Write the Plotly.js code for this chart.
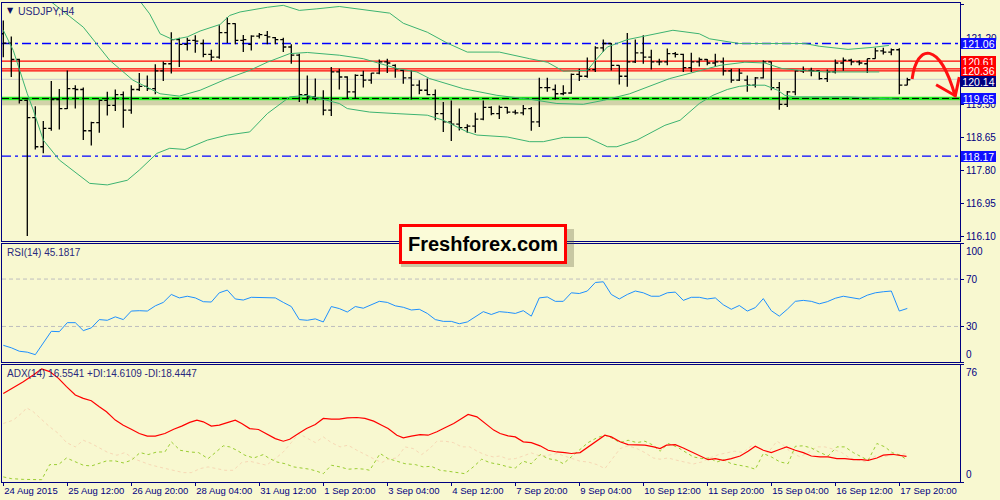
<!DOCTYPE html>
<html><head><meta charset="utf-8">
<script src="https://cdn.plot.ly/plotly-3.0.1.min.js"></script>
<style>html,body{margin:0;padding:0;background:#F8F8D0;} #chart{width:1000px;height:500px;}</style>
</head><body><div id="chart"></div>
<script>
// ---------- DATA ----------
const tickLabels = ['24 Aug 2015','25 Aug 12:00','26 Aug 20:00','28 Aug 04:00','31 Aug 12:00','1 Sep 20:00','3 Sep 04:00','4 Sep 12:00','7 Sep 20:00','9 Sep 04:00','10 Sep 12:00','11 Sep 20:00','15 Sep 04:00','16 Sep 12:00','17 Sep 20:00'];
const barsPerLabel = 8;

const openP = [121.31,121.07,120.65,119.60,119.16,118.41,118.88,119.62,119.39,119.90,
119.88,118.82,119.03,119.60,119.47,119.75,119.35,119.88,119.96,119.90,
120.36,120.54,121.16,121.04,121.14,121.06,120.78,120.71,121.34,121.57,
121.14,121.04,121.25,121.27,121.21,121.16,120.97,120.76,119.75,119.69,
119.65,119.35,120.33,120.20,119.82,120.24,120.12,120.30,120.59,120.50,
120.37,120.18,119.99,119.86,119.75,119.26,119.05,118.99,118.90,118.94,
119.12,119.42,119.26,119.42,119.30,119.28,119.39,119.05,119.93,119.88,
119.77,119.79,120.27,120.22,120.39,120.95,121.06,120.50,120.22,120.59,
120.82,120.71,120.59,120.59,120.80,120.78,120.44,120.59,120.65,120.56,
120.59,120.36,120.12,120.12,119.99,120.18,120.59,119.93,119.50,119.82,
120.36,120.37,120.36,120.16,120.33,120.56,120.63,120.59,120.54,120.67,
120.87,120.84,120.90,119.99];
const highP = [121.65,121.24,120.67,119.62,119.45,119.07,120.10,119.89,120.37,119.99,
119.93,119.05,119.62,119.82,119.88,119.83,119.99,120.30,120.24,120.53,
120.60,121.35,121.21,121.21,121.27,121.16,120.90,121.53,121.74,121.58,
121.28,121.27,121.33,121.38,121.23,121.21,121.04,120.80,120.24,120.16,
119.86,120.46,120.41,120.22,120.27,120.36,120.30,120.65,120.67,120.53,
120.39,120.37,120.12,120.16,119.88,119.56,119.60,119.39,118.99,119.28,
119.60,119.45,119.47,119.43,119.36,119.48,119.43,120.18,120.18,120.01,
119.99,120.29,120.41,120.70,120.99,121.16,121.07,120.50,121.33,121.16,
121.27,120.90,120.67,120.93,120.84,120.80,120.82,120.70,120.66,120.80,
120.70,120.41,120.41,120.24,120.20,120.63,120.60,120.07,119.84,120.37,
120.47,120.44,120.37,120.39,120.65,120.70,120.67,120.63,120.67,120.95,
120.95,120.93,120.94,120.18];
const lowP = [120.71,120.20,119.52,116.12,118.34,118.24,118.82,118.85,119.38,119.39,
118.58,118.44,118.77,119.21,119.33,118.90,119.26,119.84,119.84,119.76,
120.10,120.29,120.46,120.88,120.82,120.71,120.61,120.67,121.07,121.04,
120.84,120.88,121.19,121.04,121.04,120.84,120.54,119.56,119.52,119.60,
119.22,119.20,119.88,119.65,119.65,119.93,120.03,120.27,120.30,120.18,
120.03,119.62,119.76,119.73,119.09,118.79,118.56,118.83,118.77,118.77,
119.09,119.22,119.12,119.26,119.24,119.22,118.82,118.92,119.82,119.62,
119.73,119.77,120.10,120.18,120.33,120.84,120.37,120.01,119.95,120.56,
120.54,120.39,120.50,120.50,120.70,120.33,120.33,120.47,120.50,120.46,
120.24,120.05,120.10,119.82,119.93,120.16,119.86,119.36,119.43,119.73,
120.30,120.22,120.13,120.07,120.29,120.36,120.50,120.50,120.30,120.67,
120.78,120.76,119.76,119.99];
const closeP = [121.07,120.65,119.60,119.16,118.41,118.88,119.62,119.39,119.90,119.88,
118.82,119.03,119.60,119.47,119.75,119.35,119.88,119.96,119.90,120.36,
120.54,121.16,121.04,121.14,121.12,120.78,120.71,121.34,121.57,121.14,
121.16,121.25,121.29,121.23,121.16,120.97,120.76,119.75,119.69,119.65,
119.35,120.33,120.20,119.82,120.24,120.12,120.30,120.59,120.56,120.41,
120.18,119.99,119.86,119.75,119.26,119.05,118.99,118.90,118.94,119.12,
119.42,119.26,119.42,119.30,119.28,119.39,119.05,119.93,119.93,119.77,
119.79,120.27,120.22,120.39,120.95,121.06,120.50,120.22,120.59,120.82,
120.71,120.59,120.59,120.80,120.78,120.44,120.59,120.65,120.56,120.59,
120.36,120.12,120.30,119.99,120.18,120.59,119.93,119.50,119.82,120.36,
120.37,120.36,120.16,120.33,120.56,120.63,120.59,120.56,120.67,120.87,
120.84,120.90,119.99,120.13];

// Bollinger bands (at bar positions)
const bbUpX = [0,12,17,18.3,19.6,21.2,23,24.6,27.1,28.3,29.6,33,35,37,39.2,42,48.3,50,53,55.5,58,62,65.8,68,70,73,74.2,75.5,78,80.8,83.7,87,88.3,92,100.2,102,105.6,108.6,110.7];
const bbUp = [125.0,123.9,122.17,121.82,121.31,121.16,121.23,121.38,121.55,121.78,121.87,121.99,122.04,121.91,121.95,122.01,121.84,121.58,121.35,121.07,120.84,120.84,120.67,120.58,120.35,120.37,120.67,120.97,121.16,121.27,121.40,121.31,121.18,121.06,121.06,120.99,120.91,120.96,121.01];
const bbMidX = [0,5.8,10,13.3,16.2,19.6,22,24.6,28,30.8,33,35.8,38,42,45,49.2,51.7,53.3,57.5,61.7,65.8,69.2,72.5,75,78.3,83.3,87,89.6,92.7,95.2,97.3,99.6,102.7,109.5];
const bbMid = [123.1,122.17,121.48,120.63,120.12,119.77,119.71,119.86,120.16,120.37,120.58,120.80,120.83,120.76,120.67,120.42,120.33,120.16,119.90,119.73,119.63,119.52,119.50,119.60,119.77,120.16,120.37,120.50,120.58,120.56,120.42,120.37,120.33,120.33];
const bbLowX = [0,1.25,3,3.75,5,7,10.8,13,15.5,17,19.2,20.8,22.7,25.5,28,30.8,33,35.8,38,39.6,42,43,45.8,49.2,53,55,58,59.2,63,65.8,67.5,70,73,75.5,76.7,79.2,82.7,84.6,87,88.7,90.5,92,93.6,95.2,96.8,97.7,99,105.6,108.6,112];
const bbLow = [121.40,120.88,119.77,119.35,118.58,118.07,117.47,117.43,117.55,117.81,118.24,118.37,118.34,118.58,118.71,118.79,119.26,119.69,119.73,119.65,119.52,119.39,119.30,119.26,119.22,119.09,118.79,118.71,118.66,118.54,118.54,118.65,118.65,118.41,118.41,118.58,118.96,119.09,119.52,119.73,119.88,119.96,119.99,119.99,119.86,119.73,119.69,119.69,119.66,119.63];

// RSI(14)
const rsi = [14.1,12.0,9.1,8.3,6.2,16.4,25.9,25.6,33.2,33.2,
26.5,28.8,35.8,35.2,38.1,35.8,43.0,43.3,43.0,47.4,
50.3,57.0,54.1,55.5,54.1,50.9,50.6,58.4,60.7,53.2,
52.3,54.6,54.6,54.3,54.1,50.3,46.8,35.8,35.2,36.4,
33.8,46.8,45.1,42.2,46.8,45.4,48.3,51.2,50.3,47.4,
46.2,43.9,44.5,41.0,35.8,34.3,34.3,32.3,33.8,38.1,
42.5,40.1,42.5,41.9,41.0,43.3,38.7,54.1,54.9,51.2,
51.2,58.4,57.8,59.9,67.1,67.7,57.0,53.2,57.0,59.9,
58.4,55.5,55.5,58.4,59.0,52.0,54.6,54.6,53.2,54.1,
48.3,44.5,47.7,43.0,45.9,53.5,43.3,38.7,44.5,51.2,
52.0,51.2,49.1,50.9,53.8,55.5,54.6,53.2,56.4,58.4,
59.3,59.9,43.0,45.2];
const rsiLevels = [70, 30];

// ADX(14), +DI, -DI
const adxX = [0,1.25,2.5,3.75,4.8,5.8,6.9,7.9,9,10,11,12,12.9,14,15,16,17,18,19,20.2,21.3,22.3,23.3,24.2,25,26,27,28.1,29,29.8,30.8,31.9,32.9,34,35,35.8,36.9,37.9,39,40,41,42,43,44.2,45.2,46.3,47.3,48.1,49.2,50,51,52.1,53.1,54.2,55.2,56.3,57.3,58.1,59.2,60.2,61.3,62.1,63.1,64,65,66,67.1,68.1,69.2,70.2,71,72.1,73.1,74.2,75.2,76,77.1,78.1,79.2,80.2,81.3,82.1,82.9,84,85,86,87.1,88.1,89,90,91,92.1,93.1,94,95,96,97.1,97.9,99,100,101,102.1,103.1,104.2,105.2,106.3,107.3,108.1,109.2,110,111.1,112.1,112.9];
const adx = [57.5,61.2,65.1,69.5,73.4,71.7,67.3,61.9,56.5,54.3,52.8,48.9,45.6,40.2,36.9,34.3,31.5,29.8,29.8,31.5,34.3,36.3,38.7,40.2,39.1,36.3,36.9,38.7,40.2,38.0,34.7,34.1,31.5,28.2,26.5,27.8,31.5,34.7,37.3,41.3,40.8,40.8,41.7,41.9,41.3,39.5,36.9,34.7,30.4,28.7,29.8,30.8,30.4,32.6,35.2,38.0,41.3,43.9,42.3,38.0,33.7,31.5,30.0,29.3,26.1,25.6,23.5,20.6,19.5,19.1,18.5,19.1,22.8,27.1,30.4,29.3,26.1,24.3,23.9,23.9,22.8,21.7,23.9,24.3,22.1,19.5,16.9,14.5,15.2,14.1,15.2,16.9,20.0,23.2,20.6,19.1,21.3,22.8,20.6,19.1,16.9,16.3,16.3,15.2,15.2,14.5,14.5,14.1,15.6,17.4,18.0,17.4,16.6];
const pdiX = [0,1,2.5,3.75,4.8,5.8,6.9,7.9,9,10,11,12,12.9,14,15,16,17.1,18.1,19.2,20.2,21,22.1,23.3,24.4,25.6,26.5,27.5,28.3,29.2,30.2,31.3,32.5,33.3,34.2,35.2,36.3,37.3,38.3,39.2,40,41,42.1,43.1,44.2,45.2,45.8,47.1,48.1,49.2,50.2,51.5,52.5,53.5,54.6,55.6,56.7,57.7,58.75,59.8,60.8,62.1,63.1,64,65,66,67.1,68.1,69.2,70,71,72.1,73.1,74.2,75.2,76,77.1,78.1,79.2,80.2,81.25,82.1,83.1,84.2,85.2,86.25,87.3,88.3,89.2,90,91,92.1,93.1,94,95,96,97.1,98.1,99,100,101,102.1,103.1,104.2,105.2,106.25,107.3,108.1,109.2,110.2,111.1,112.1,112.9];
const pdi = [3.3,2.2,1.7,1.7,1.5,11.3,11.3,15.6,13.0,10.9,10.4,11.9,13.7,13.7,12.4,14.1,19.1,17.8,19.5,19.5,26.1,20.6,19.5,19.1,15.2,19.1,23.5,22.8,20.6,17.4,15.6,17.8,15.2,13.0,11.9,9.8,9.1,8.3,7.0,5.4,10.9,9.8,8.3,8.7,8.3,7.6,18.5,15.2,13.5,11.9,11.3,9.8,10.2,7.6,7.0,6.1,5.4,9.8,14.8,12.6,11.3,9.8,9.1,13.5,11.9,17.8,15.2,14.1,11.9,16.3,21.3,25.6,28.7,30.4,28.7,25.6,27.1,25.6,26.5,23.9,20.0,25.0,22.8,19.5,16.3,15.2,15.6,13.0,14.5,11.9,10.9,9.8,8.3,18.5,16.3,13.0,11.9,23.2,23.5,22.1,19.1,16.9,22.8,22.8,19.1,16.3,14.1,25.0,22.8,19.1,17.4,14.6];
const mdiX = [0,1.25,2.5,2.9,3.75,4.8,5.8,6.9,7.9,9,10,11,12,13.1,14.2,15.2,16.25,17.3,18.3,19.4,20.4,21.5,22.5,23.5,24.6,25.6,26.7,27.7,28.75,29.8,30.8,31.9,32.9,34,35,36,36.9,37.9,39,40,41,42.1,43.1,44.2,45.2,46.25,47.3,48.1,49.2,50.2,51.25,52.3,53.3,54.2,55.2,56.25,57.3,58.3,59.4,60.4,61.25,62.1,63.1,64,65,66,67.1,68.1,69.2,70.2,71,72.1,73.1,74.2,75.2,76,77.1,78.1,79.2,80.2,81.25,82.1,83.1,84.2,85.2,86.25,87.3,88.3,89.4,90.4,91.4,92.5,93.5,94.6,95.6,96.7,97.5,98.5,99.6,100.6,101.7,102.7,103.75,104.8,105.8,106.9,107.9,109,110,111,112.1,112.9];
const mdi = [38.0,40.2,45.6,48.2,45.6,40.8,35.8,31.5,25.6,22.8,27.1,25.0,22.1,19.1,17.4,19.1,15.2,13.0,11.3,9.8,8.7,7.6,6.1,6.1,8.7,9.8,8.7,7.6,7.6,12.6,13.5,11.9,10.9,15.2,19.5,25.6,31.5,28.7,25.6,29.3,25.6,22.8,23.9,20.6,17.8,15.2,12.6,14.8,15.6,22.8,21.7,17.8,21.7,26.5,26.5,25.6,22.8,22.8,19.5,17.4,16.3,16.9,14.8,15.2,16.9,18.9,16.9,17.4,18.5,16.9,15.2,13.5,13.0,11.3,8.7,14.1,21.7,23.5,21.7,19.1,15.6,14.8,15.6,14.1,13.0,11.7,13.0,15.6,17.8,19.1,20.0,19.1,23.5,21.7,19.1,26.5,23.9,19.1,16.3,19.1,22.8,22.8,21.3,19.1,15.6,14.1,13.0,16.9,16.3,17.4,17.8,18.4];

// horizontal levels
const blueLevels = [121.06, 118.17];
const redLevels = [120.61, 120.41, 120.36];
const bidLevel = 120.14;
const supportLevel = 119.65;
const priceTicks = [122.05, 121.20, 120.35, 119.50, 118.65, 117.80, 116.95, 116.10];
const hiddenTicks = [120.35]; // fully covered by price boxes in the original
const boxLevels = [121.06, 120.61, 120.36, 120.14, 119.65, 118.17];
const boxKinds  = ['blue','red','red','bid','blue','blue'];

// ---------- STYLE ----------
const NAVY = '#000080';
const BG = '#F8F8D0';
const FONT = 'Liberation Sans, Arial, sans-serif';
const BB_COLOR = '#3CB371';

const idx = openP.map((_, i) => i);
const tickIdx = tickLabels.map((_, k) => k * barsPerLabel);
const XR = [-0.1625, 119.5875];

const traces = [
  {type:'scatter', mode:'lines', x:bbUpX, y:bbUp, xaxis:'x', yaxis:'y', line:{color:BB_COLOR, width:1}, hoverinfo:'skip'},
  {type:'scatter', mode:'lines', x:bbMidX, y:bbMid, xaxis:'x', yaxis:'y', line:{color:BB_COLOR, width:1}, hoverinfo:'skip'},
  {type:'scatter', mode:'lines', x:bbLowX, y:bbLow, xaxis:'x', yaxis:'y', line:{color:BB_COLOR, width:1}, hoverinfo:'skip'},
  {type:'ohlc', x:idx, open:openP, high:highP, low:lowP, close:closeP, xaxis:'x', yaxis:'y',
   increasing:{line:{color:'#000000', width:1.3}}, decreasing:{line:{color:'#000000', width:1.3}},
   tickwidth:0.38, hoverinfo:'skip'},
  {type:'scatter', mode:'lines', x:idx, y:rsi, xaxis:'x2', yaxis:'y2', line:{color:'#1E90FF', width:1}, hoverinfo:'skip'},
  {type:'scatter', mode:'lines', x:mdiX, y:mdi, xaxis:'x3', yaxis:'y3', line:{color:'#F7D8B5', width:1, dash:'dot'}, hoverinfo:'skip'},
  {type:'scatter', mode:'lines', x:pdiX, y:pdi, xaxis:'x3', yaxis:'y3', line:{color:'#9ACD32', width:1, dash:'3px,3px'}, hoverinfo:'skip'},
  {type:'scatter', mode:'lines', x:adxX, y:adx, xaxis:'x3', yaxis:'y3', line:{color:'#FF0000', width:1.2}, hoverinfo:'skip'}
];

const shapes = [];
const hline = (yref, v, line, layer) => shapes.push({type:'line', xref:'x domain', x0:0, x1:1, yref:yref, y0:v, y1:v, line:line, layer:layer||'below'});
hline('y', supportLevel - 0.11, {color:'rgba(110,110,70,0.28)', width:5});
hline('y', supportLevel, {color:'#22EE22', width:3.5});
hline('y', supportLevel, {color:'#000000', width:1, dash:'7px,3px'});
hline('y', bidLevel, {color:'#D4D4CC', width:1.2});
redLevels.forEach(v => hline('y', v, {color:'#FF0000', width:1.2}));
blueLevels.forEach(v => hline('y', v, {color:'#0000FF', width:1.3, dash:'9px,4px,3px,4px'}));
rsiLevels.forEach(v => shapes.push({type:'line', xref:'x2 domain', x0:0, x1:1, yref:'y2', y0:v, y1:v, line:{color:'#BEBEBE', width:1, dash:'4px,3px'}, layer:'below'}));
// hand-drawn red arrow
shapes.push({type:'path', xref:'x', yref:'y', path:'M113.6,120.15 C114.2,121.05 117.0,121.15 119.0,119.70', line:{color:'#FF1010', width:3}, layer:'above'});
shapes.push({type:'path', xref:'x', yref:'y', path:'M116.6,120.00 L119.0,119.72 L119.5,120.20', line:{color:'#FF1010', width:3}, layer:'above'});
// Freshforex box shadow
shapes.push({type:'rect', xref:'paper', yref:'paper', x0:(401-2)/958, x1:(574-2)/958, y0:(482-267)/479, y1:(482-229)/479, fillcolor:'rgba(90,90,60,0.30)', line:{width:0}, layer:'above'});

const boxColor = {blue:'#1010FF', red:'#FF0000', bid:'#000080'};
const boxShift = {blue:0, red:0, bid:-2};
const annotations = [];
boxLevels.forEach((v, k) => annotations.push({
  xref:'paper', x:1, xanchor:'left', xshift:1, yref:'y', y:v, yanchor:'middle', yshift:boxShift[boxKinds[k]],
  text:v.toFixed(2), showarrow:false, bgcolor:boxColor[boxKinds[k]], borderpad:0, borderwidth:0,
  width:35, height:11, align:'center', valign:'middle',
  font:{family:FONT, size:10.5, color:'#FFFFFF'}
}));
const edgeLabel = (yref, v, txt, anchor) => annotations.push({
  xref:'paper', x:1, xanchor:'left', xshift:4, yref:yref, y:v, yanchor:anchor,
  text:txt, showarrow:false, font:{family:FONT, size:10, color:NAVY}
});
edgeLabel('y2', 100, '100', 'top');
edgeLabel('y2', 0, '0', 'bottom');
edgeLabel('y3', 76, '76', 'top');
edgeLabel('y3', 0, '0', 'bottom');

annotations.push({xref:'paper', yref:'paper', x:(5-2)/958, y:(482-10.5)/479, xanchor:'left', yanchor:'middle', text:'▼', showarrow:false, font:{family:'DejaVu Sans', size:8, color:'#101060'}});
annotations.push({xref:'paper', yref:'paper', x:(16-2)/958, y:(482-11)/479, xanchor:'left', yanchor:'middle', text:'USDJPY,H4', showarrow:false, font:{family:FONT, size:10.5, color:'#28287E'}});
annotations.push({xref:'paper', yref:'paper', x:(5-2)/958, y:(482-252)/479, xanchor:'left', yanchor:'middle', text:'RSI(14) 45.1817', showarrow:false, font:{family:FONT, size:10, color:'#28287E'}});
annotations.push({xref:'paper', yref:'paper', x:(5-2)/958, y:(482-373)/479, xanchor:'left', yanchor:'middle', text:'ADX(14) 16.5541 +DI:14.6109 -DI:18.4447', showarrow:false, font:{family:FONT, size:10, color:'#28287E'}});
annotations.push({xref:'paper', yref:'paper', x:(483-2)/958, y:(482-243.5)/479, xanchor:'center', yanchor:'middle',
  text:'<b>Freshforex.com</b>', showarrow:false, bgcolor:'#FBFBD8', bordercolor:'#FF0000', borderwidth:3, borderpad:6,
  font:{family:FONT, size:20, color:'#000000'}});

const baseX = {range:XR, showgrid:false, zeroline:false, showline:true, mirror:true, linecolor:NAVY, linewidth:1, fixedrange:true};
const baseY = {side:'right', showgrid:false, zeroline:false, showline:true, mirror:true, linecolor:NAVY, linewidth:1,
  ticks:'outside', ticklen:3, tickcolor:NAVY, tickfont:{family:FONT, size:10, color:NAVY}, fixedrange:true};

const layout = {
  width:1000, height:500, paper_bgcolor:BG, plot_bgcolor:BG, showlegend:false,
  margin:{l:2, r:40, t:3, b:18}, hovermode:false,
  xaxis: Object.assign({}, baseX, {anchor:'y', showticklabels:false, ticks:'', rangeslider:{visible:false}}),
  yaxis: Object.assign({}, baseY, {anchor:'x', domain:[0.5031, 1], range:[115.99, 122.10], tickvals:priceTicks,
    ticktext:priceTicks.map(v => hiddenTicks.includes(v) ? '' : v.toFixed(2))}),
  xaxis2: Object.assign({}, baseX, {anchor:'y2', showticklabels:false, ticks:''}),
  yaxis2: Object.assign({}, baseY, {anchor:'x2', domain:[0.2505, 0.4979], range:[0, 100], tickvals:[100,70,30,0], ticktext:['','70','30','']}),
  xaxis3: Object.assign({}, baseX, {anchor:'y3', tickvals:tickIdx, ticktext:tickLabels, ticks:'outside', ticklen:3, tickcolor:NAVY,
    ticklabelposition:'outside right', tickfont:{family:FONT, size:9.5, color:NAVY}, tickangle:0}),
  yaxis3: Object.assign({}, baseY, {anchor:'x3', domain:[0, 0.2443], range:[0, 76], tickvals:[76,0], ticktext:['','']}),
  shapes: shapes, annotations: annotations
};

Plotly.newPlot('chart', traces, layout, {staticPlot:true, displayModeBar:false});
</script></body></html>
